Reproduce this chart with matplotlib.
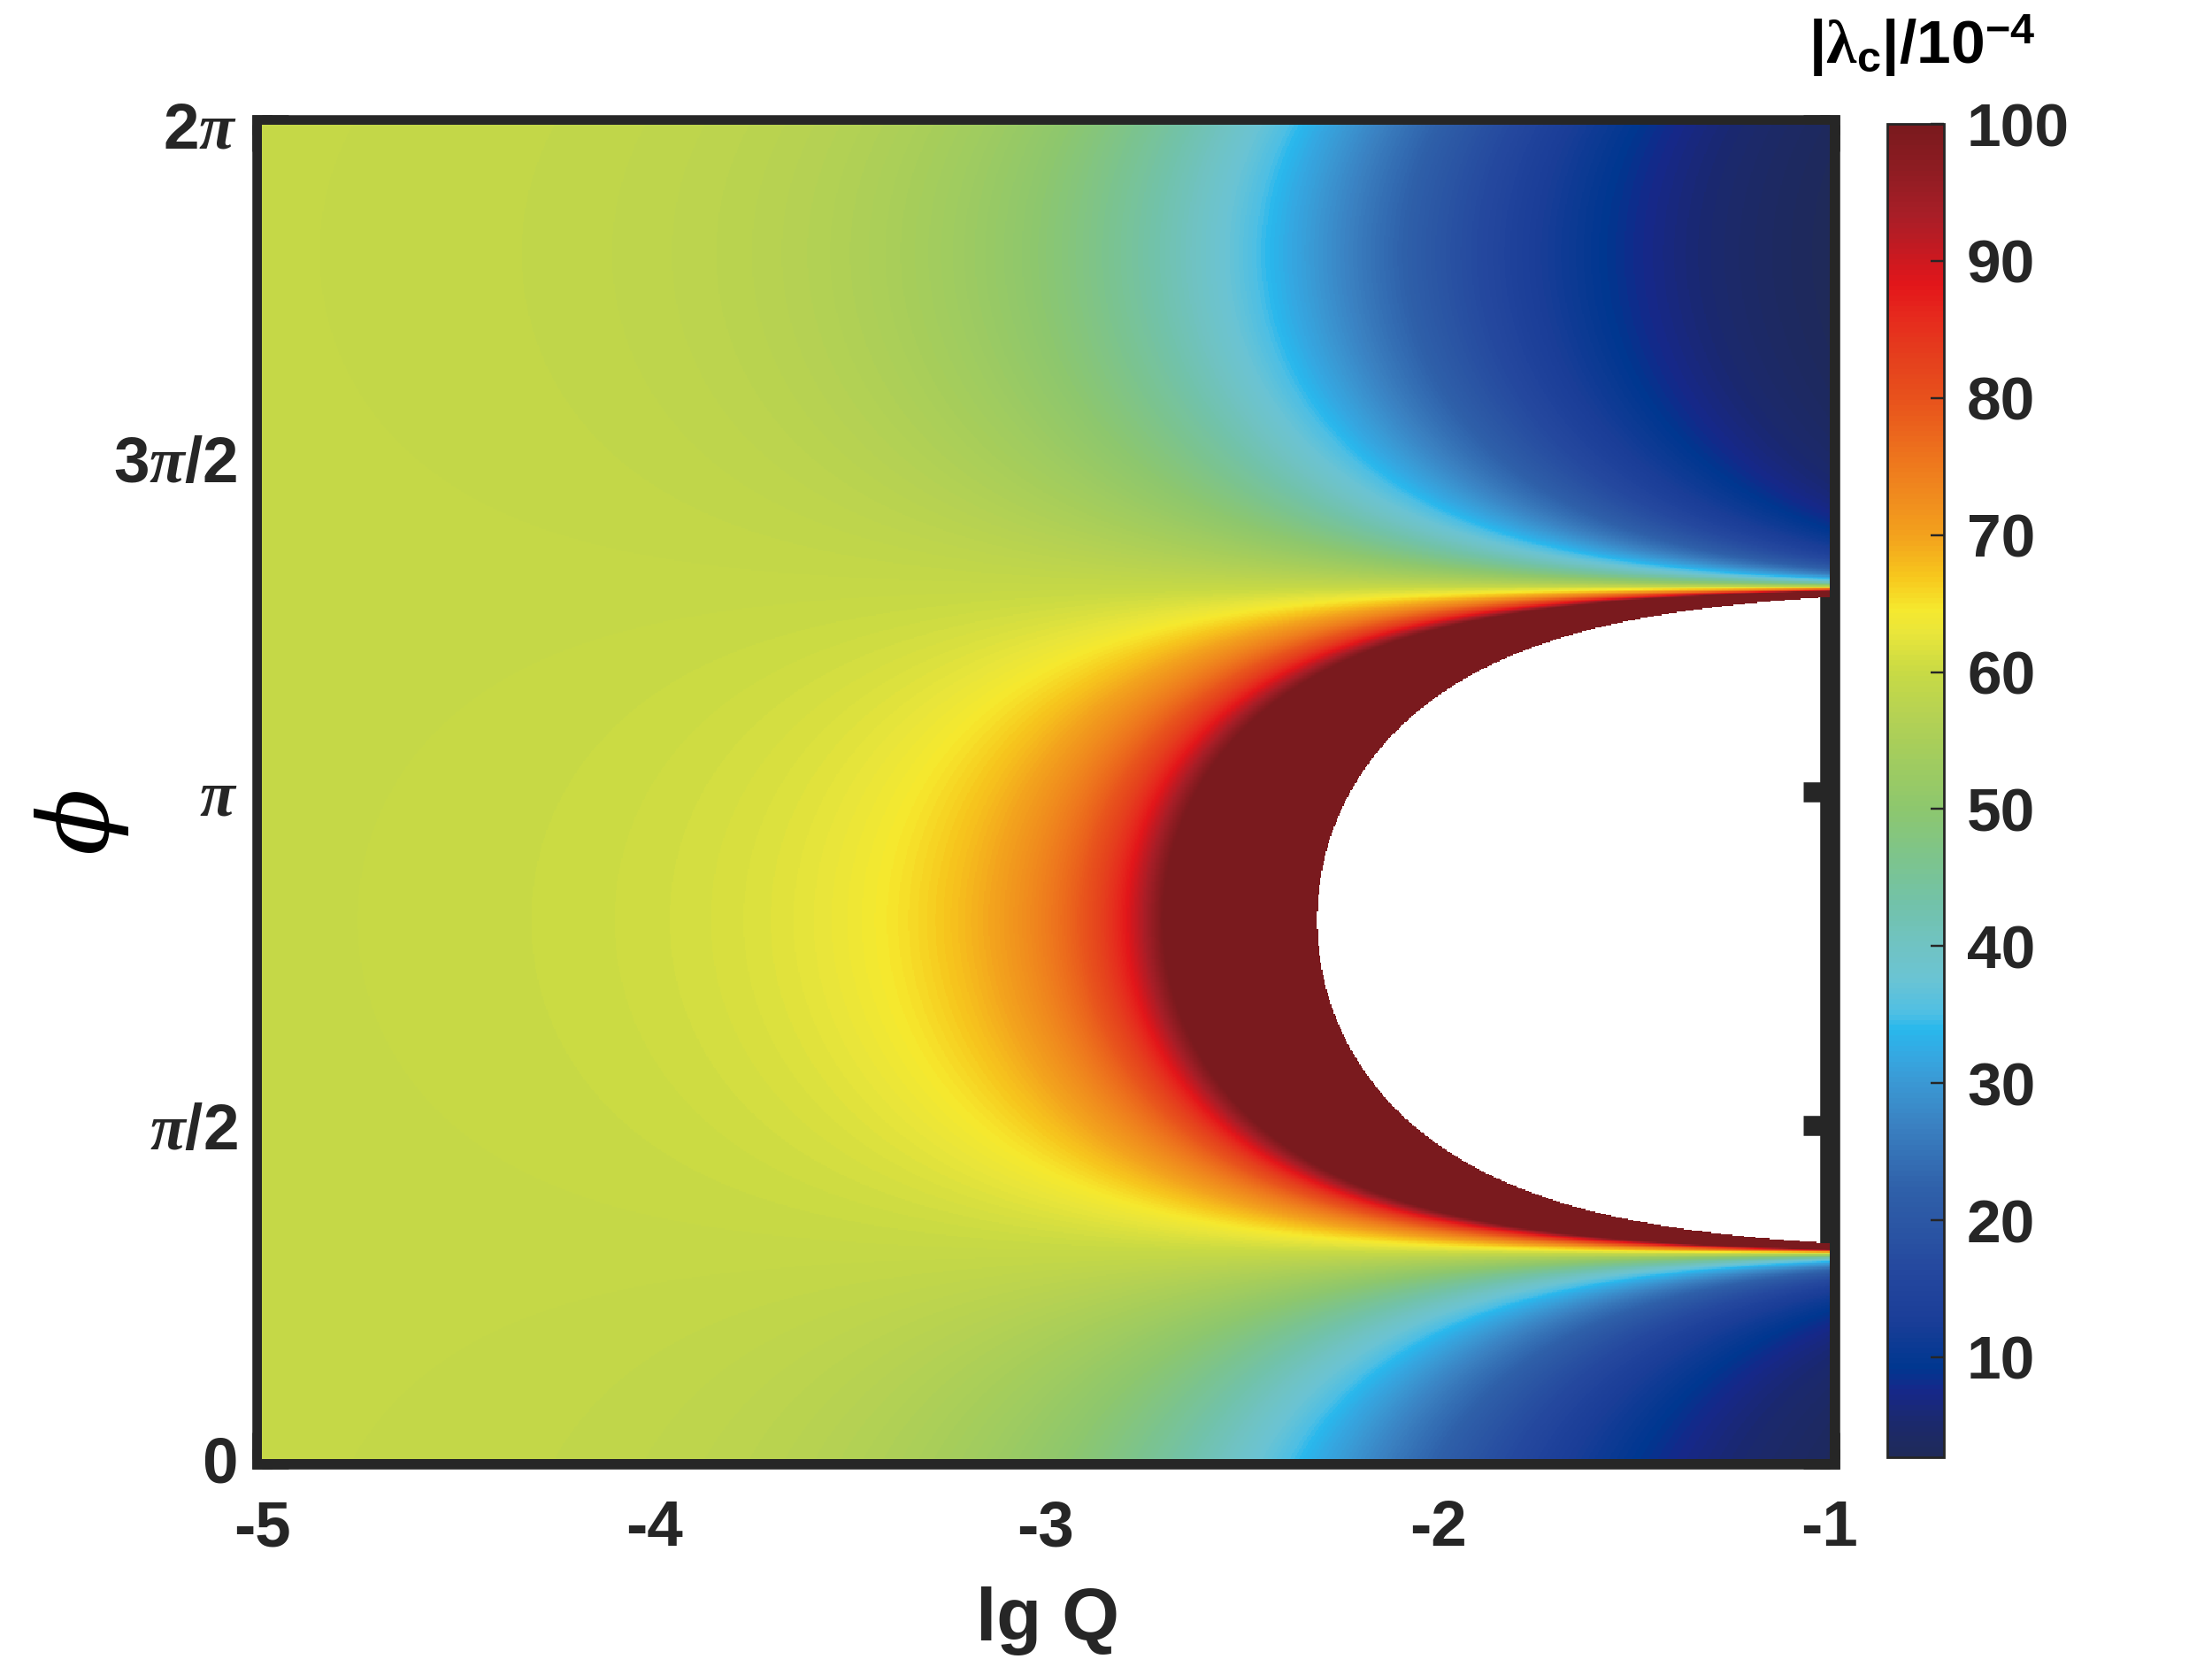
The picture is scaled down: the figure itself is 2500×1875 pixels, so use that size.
import numpy as np
import matplotlib
matplotlib.use("Agg")
import matplotlib.pyplot as plt
from matplotlib.colors import LinearSegmentedColormap, Normalize

# ---------------- values ----------------
lgq_limits = [-5.0, -1.0]              # x range (lg Q)
phi_limits = [0.0, 2 * np.pi]          # y range (phi)
LAMBDA0 = 59.5                         # |lambda_c|/1e-4 far left (small Q)
LGQ_CRIT = -2.307                      # lg Q where the white (no solution) lobe starts
PHI0 = 0.807 * np.pi                   # centre angle of the lobe
clim = [2.7, 100.0]                    # colour limits of the colour bar

x_ticks = [-5, -4, -3, -2, -1]
x_tick_labels = ["-5", "-4", "-3", "-2", "-1"]
y_ticks = [0, np.pi / 2, np.pi, 3 * np.pi / 2, 2 * np.pi]
y_tick_labels = ["0", r"$\pi/2$", r"$\pi$", r"$3\pi/2$", r"$2\pi$"]
cbar_ticks = [10, 20, 30, 40, 50, 60, 70, 80, 90, 100]
cbar_tick_labels = ["10", "20", "30", "40", "50", "60", "70", "80", "90", "100"]

# colour map anchors (value, colour)
cmap_values = [2.7, 5.3, 7.4, 9.1, 12.7, 16, 20, 22.3, 26.6, 30, 32, 33.9, 35,
               37.6, 40, 43, 46.2, 50, 54.8, 57, 60, 63, 64.6, 67, 70, 73,
               76.3, 80, 82.8, 86, 88.4, 91, 93.5, 96.8, 100]
cmap_colors = ["#1F2A5A", "#1B296F", "#16288A", "#003790", "#1B3E98", "#24479E",
               "#2C58A5", "#2F61AA", "#3A7FC0", "#3A99D4", "#35A8E2", "#28B8ED",
               "#4EBFE4", "#6BC4D3", "#70C3C3", "#72C2AA", "#7CC48E", "#8DC76E",
               "#A8CE5A", "#B6D253", "#C8DA45", "#EAE63A", "#F6E92E", "#F7C71D",
               "#F3A21D", "#F08A1E", "#ED701D", "#E8521C", "#E5411D", "#E62A1D",
               "#E3161A", "#C31A22", "#A81E27", "#8E1C22", "#7A1A1E"]

# ---------------- fonts ----------------
plt.rcParams["font.family"] = ["Liberation Sans", "DejaVu Sans"]
plt.rcParams["font.weight"] = "bold"
plt.rcParams["mathtext.fontset"] = "custom"
plt.rcParams["mathtext.rm"] = "Liberation Sans:bold"
plt.rcParams["mathtext.bf"] = "Liberation Sans:bold"
plt.rcParams["mathtext.it"] = "Liberation Serif:italic"
plt.rcParams["mathtext.sf"] = "Liberation Serif"

DARK = "#262626"

# ---------------- field ----------------
nx, ny = 1400, 1100
lgq = np.linspace(lgq_limits[0], lgq_limits[1], nx)
phi = np.linspace(phi_limits[0], phi_limits[1], ny)
LG, PH = np.meshgrid(lgq, phi)
ratio = 10.0 ** (LG - LGQ_CRIT)
denom = 1.0 - ratio * np.cos(PH - PHI0)
lam = np.where(denom > 0, LAMBDA0 / np.where(denom > 0, denom, 1.0), np.nan)

# ---------------- colour map ----------------
pos = [(v - clim[0]) / (clim[1] - clim[0]) for v in cmap_values]
cmap = LinearSegmentedColormap.from_list("lam", list(zip(pos, cmap_colors)), N=256)
cmap.set_bad((1, 1, 1, 0))
cmap.set_over(cmap_colors[-1])
cmap.set_under(cmap_colors[0])

# ---------------- figure ----------------
fig = plt.figure(figsize=(10, 7.5), dpi=250)
ax = fig.add_axes([0.1184, 0.1205, 0.7088, 0.8043])
ax.set_facecolor("white")

im = ax.imshow(lam, origin="lower", aspect="auto", interpolation="nearest",
               extent=[lgq_limits[0], lgq_limits[1], phi_limits[0], phi_limits[1]],
               cmap=cmap, norm=Normalize(vmin=clim[0], vmax=clim[1]), zorder=3)

ax.set_xlim(lgq_limits)
ax.set_ylim(phi_limits)

for s in ax.spines.values():
    s.set_linewidth(6.5)
    s.set_color(DARK)

ax.set_xticks(x_ticks)
ax.set_xticklabels(x_tick_labels, fontsize=21, fontweight="bold", color=DARK)
ax.set_yticks(y_ticks)
ax.set_yticklabels(y_tick_labels, fontsize=21, fontweight="bold", color=DARK)
ax.tick_params(axis="both", which="major", direction="in", length=8.5, width=6.5,
               color=DARK, top=True, right=True, bottom=True, left=True)
ax.tick_params(axis="x", pad=13)
ax.tick_params(axis="y", pad=8)

# axis labels
fig.text(1184 / 2500, 1 - 1832 / 1875, "lg Q", fontsize=24, fontweight="bold",
         color=DARK, ha="center", va="center")
fig.text(92 / 2500, 1 - 927 / 1875, "\u03d5", fontsize=32, color="black",
         family=["DejaVu Serif"], style="italic", fontweight="normal",
         rotation=90, ha="center", va="center")

# colour bar
cax = fig.add_axes([0.8532, 0.1216, 0.0256, 0.8037])
cbar = fig.colorbar(im, cax=cax, ticks=cbar_ticks)
cbar.ax.set_yticklabels(cbar_tick_labels, fontsize=20, fontweight="bold", color=DARK)
cbar.ax.tick_params(direction="in", length=4.3, width=0.7, color=DARK, pad=7.5)
cbar.outline.set_linewidth(0.8)
cbar.outline.set_edgecolor(DARK)

fig.text(2172 / 2500, 1 - 52 / 1875, r"$|\mathsf{\lambda}_{\mathbf{c}}|/10^{-4}$",
         fontsize=20, color="black", ha="center", va="center")

fig.savefig("out.png", dpi=250)
